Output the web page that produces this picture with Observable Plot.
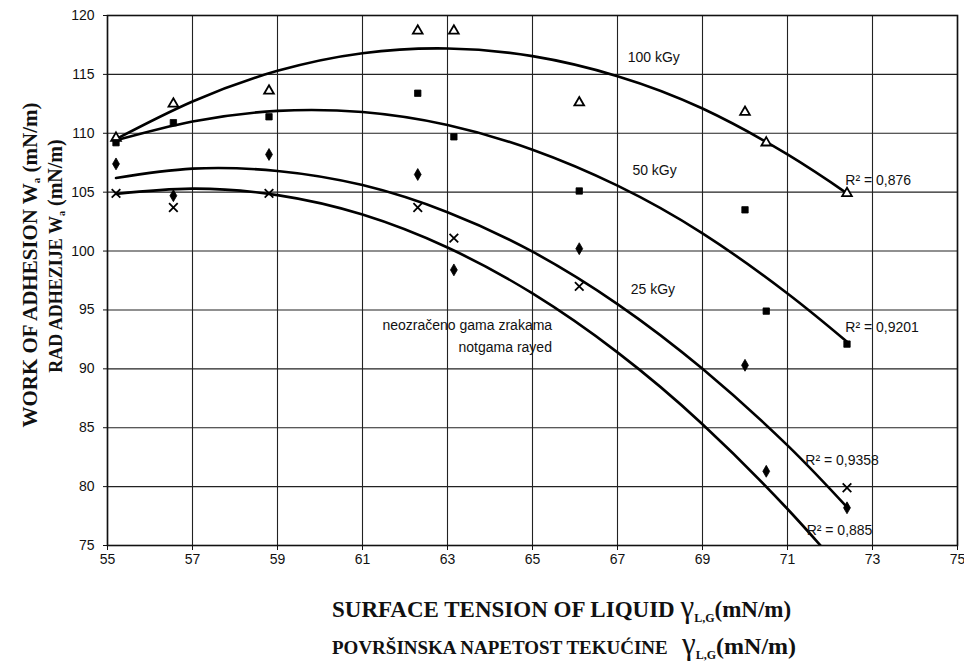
<!DOCTYPE html>
<html><head><meta charset="utf-8">
<script src="https://cdn.jsdelivr.net/npm/d3@7"></script>
<script src="https://cdn.jsdelivr.net/npm/@observablehq/plot@0.6"></script>
<style>body{margin:0;background:#fff}</style>
</head><body><div id="chart"></div>
<script>
// Surface tension of test liquids (mN/m)
const surfaceTension = [55.2, 56.55, 58.8, 62.3, 63.15, 66.1, 70.0, 70.5, 72.4];
// Work of adhesion (mN/m) per irradiation dose
const w100 = [109.6, 112.5, 113.6, 118.7, 118.7, 112.6, 111.8, 109.2, 104.9];
const w50  = [109.2, 110.9, 111.4, 113.4, 109.7, 105.1, 103.5, 94.9, 92.1];
const w25  = [107.4, 104.7, 108.2, 106.5, 98.4, 100.2, 90.3, 81.3, 78.2];
const w0   = [104.9, 103.7, 104.9, 103.7, 101.1, 97.0, null, null, 79.9];
// Polynomial trendlines
const trendX   = [55.2, 57, 59, 61, 63, 65, 67, 69, 71, 72.4];
const trend100 = [109.5, 112.7, 115.3, 116.8, 117.2, 116.55, 114.85, 112.1, 108.2, 104.9];
const trend50  = [109.4, 111.0, 111.9, 111.8, 110.7, 108.6, 105.55, 101.5, 96.4, 92.3];
const trend25  = [106.2, 107.0, 106.8, 105.6, 103.3, 99.95, 95.5, 90.0, 83.5, 78.25];
const trend0   = [104.85, 105.3, 104.75, 103.1, 100.3, 96.4, 91.4, 85.3, 78.1, 72.4];
// Axis ticks
const xTicks = [55, 57, 59, 61, 63, 65, 67, 69, 71, 73, 75];
const yTicks = [75, 80, 85, 90, 95, 100, 105, 110, 115, 120];
// Annotations
const labelText = ["100 kGy", "50 kGy", "25 kGy", "neozračeno gama zrakama", "notgama rayed",
                   "R² = 0,876", "R² = 0,9201", "R² = 0,9358", "R² = 0,885"];
const labelX = [67.24, 67.35, 67.31, 61.47, 63.26, 72.36, 72.36, 71.42, 71.45];
const labelY = [116.43, 106.84, 96.71, 93.68, 91.82, 106.0, 93.49, 82.22, 76.28];

const pts = (ys) => surfaceTension.map((x, i) => ({x, y: ys[i]})).filter(d => d.y != null);
const trendSeries = [["100 kGy", trend100], ["50 kGy", trend50], ["25 kGy", trend25], ["0 kGy", trend0]];
const trends = trendSeries.flatMap(([s, ys]) => trendX.map((x, i) => ({s, x, y: ys[i]})));
const labels = labelText.map((t, i) => ({t, x: labelX[i], y: labelY[i]}));

const chart = Plot.plot({
  width: 964, height: 662,
  marginLeft: 107, marginRight: 7, marginTop: 15, marginBottom: 117,
  x: {domain: [55, 75]},
  y: {domain: [75, 120]},
  style: {fontFamily: "'Liberation Sans', Arial, sans-serif", fontSize: "14px", background: "#fff", color: "#111"},
  marks: [
    Plot.gridX(xTicks, {stroke: "#222", strokeOpacity: 1, strokeWidth: 1.1}),
    Plot.gridY(yTicks, {stroke: "#222", strokeOpacity: 1, strokeWidth: 1.1}),
    Plot.axisX(xTicks, {tickSize: 5, tickPadding: 4, fontSize: 14, label: null, tickFormat: d => d}),
    Plot.axisY(yTicks, {tickSize: 4, tickPadding: 9, fontSize: 14, label: null, tickFormat: d => d}),
    Plot.frame({stroke: "#111", strokeWidth: 1.6}),
    Plot.line(trends, {x: "x", y: "y", z: "s", curve: "natural", stroke: "#000", strokeWidth: 2.6, clip: true}),
    Plot.dot(pts(w100), {x: "x", y: "y", symbol: "triangle", r: 3.6, fill: "#fff", stroke: "#000", strokeWidth: 1.8}),
    Plot.dot(pts(w50), {x: "x", y: "y", symbol: "square", r: 3.6, fill: "#000", stroke: "#000", strokeWidth: 0.8}),
    Plot.dot(pts(w25), {x: "x", y: "y", symbol: "diamond", r: 3.6, fill: "#000", stroke: "#000", strokeWidth: 0.8}),
    Plot.dot(pts(w0), {x: "x", y: "y", symbol: "times", r: 4, stroke: "#000", strokeWidth: 1.8}),
    Plot.text(labels, {x: "x", y: "y", text: "t", textAnchor: "start", fontSize: 14, fill: "#111"})
  ]
});
document.getElementById("chart").appendChild(chart);

const svg = d3.select(chart);
function title(tx, ty, rot, anchor, parts) {
  const t = svg.append("text")
    .attr("transform", `translate(${tx},${ty})${rot ? ` rotate(${rot})` : ""}`)
    .attr("text-anchor", anchor)
    .attr("font-family", "'Liberation Serif', 'Times New Roman', serif")
    .attr("font-weight", "bold")
    .attr("fill", "#111");
  for (const p of parts) {
    const s = t.append("tspan").text(p.t).attr("font-size", p.size);
    if (p.dy) s.attr("dy", p.dy);
    if (p.w) s.attr("font-weight", p.w);
  }
}
title(332, 617, 0, "start", [
  {t: "SURFACE TENSION OF LIQUID ", size: 23},
  {t: "γ", size: 31, w: "normal"},
  {t: "L,G", size: 12, dy: 5},
  {t: "(mN/m)", size: 23, dy: -5}
]);
title(332, 654, 0, "start", [
  {t: "POVRŠINSKA NAPETOST TEKUĆINE   ", size: 19},
  {t: "γ", size: 31, w: "normal"},
  {t: "L,G", size: 12, dy: 5},
  {t: "(mN/m)", size: 24, dy: -5}
]);
title(37, 265, -90, "middle", [
  {t: "WORK OF ADHESION W", size: 21},
  {t: "a", size: 11, dy: 3},
  {t: " (mN/m)", size: 21, dy: -3}
]);
title(62, 256, -90, "middle", [
  {t: "RAD ADHEZIJE W", size: 18},
  {t: "a", size: 10, dy: 3},
  {t: " (mN/m)", size: 20, dy: -3}
]);
</script>
</body></html>
